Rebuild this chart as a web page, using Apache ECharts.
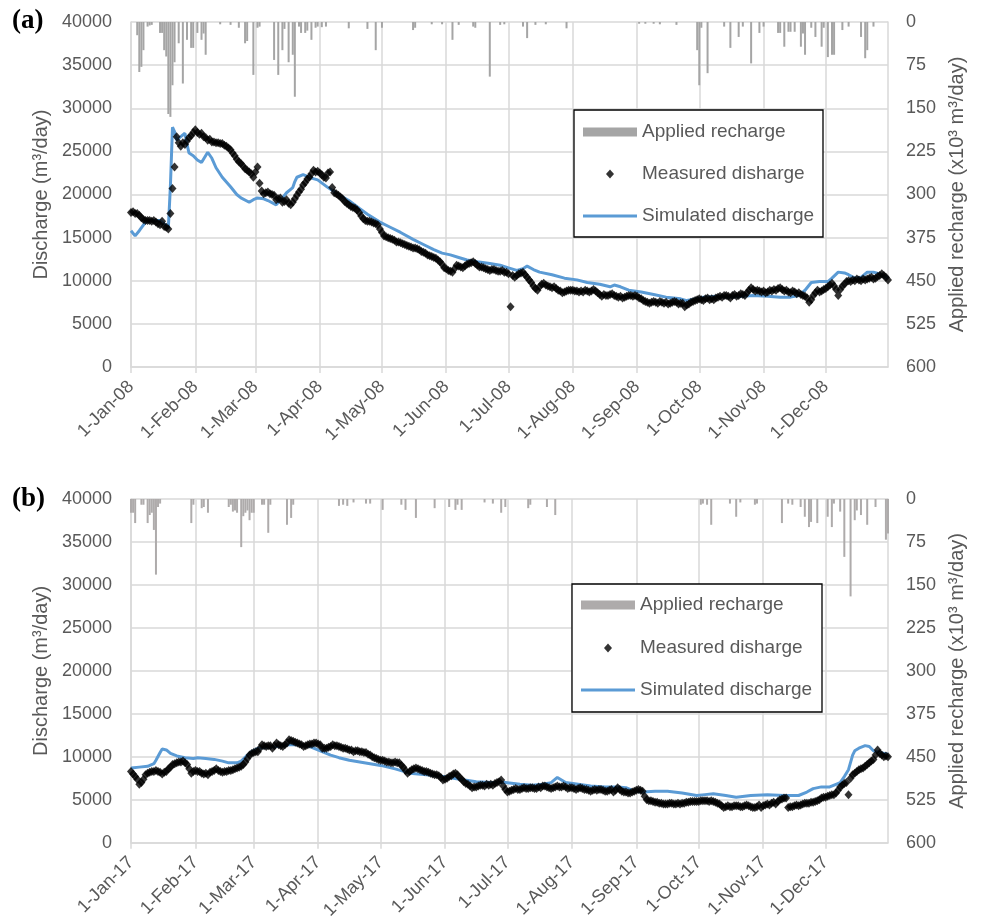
<!DOCTYPE html>
<html><head><meta charset="utf-8">
<script src="https://cdn.jsdelivr.net/npm/echarts@6/dist/echarts.min.js"></script>
<style>html,body{margin:0;padding:0;background:#fff}#chart{width:983px;height:922px}</style>
</head><body><div id="chart"></div>
<script>
// ---------- axis categories / tick labels ----------
const tickLabels08 = ['1-Jan-08','1-Feb-08','1-Mar-08','1-Apr-08','1-May-08','1-Jun-08','1-Jul-08','1-Aug-08','1-Sep-08','1-Oct-08','1-Nov-08','1-Dec-08'];
const monthStart08 = [0,31,60,91,121,152,182,213,244,274,305,335];
const dayCount08 = 366;
const tickLabels17 = ['1-Jan-17','1-Feb-17','1-Mar-17','1-Apr-17','1-May-17','1-Jun-17','1-Jul-17','1-Aug-17','1-Sep-17','1-Oct-17','1-Nov-17','1-Dec-17'];
const monthStart17 = [0,31,59,90,120,151,181,212,243,273,304,334];
const dayCount17 = 365;

// ---------- 2008: measured discharge, daily (x1000 m3/day) ----------
const measured08K = [
 // Jan
 17.9,18.0,17.8,17.8,17.6,17.3,17.1,17.0,17.0,17.0,16.9,17.0,16.8,16.6,16.5,16.9,16.3,16.2,16.0,17.8,20.7,23.2,26.7,26.0,25.6,26.0,25.8,26.2,26.6,26.8,27.2,
 // Feb
 27.5,27.2,27.0,27.1,26.7,26.6,26.3,26.4,26.1,26.1,26.0,26.0,25.9,25.9,25.7,25.6,25.4,25.2,24.8,24.5,24.1,23.8,23.6,23.3,23.0,22.8,22.6,22.4,22.0,
 // Mar
 22.6,23.2,21.3,20.4,20.1,20.2,20.3,20.1,20.0,19.9,19.4,19.5,19.6,19.1,19.2,19.4,19.0,18.8,19.1,19.5,19.9,20.3,20.6,21.1,21.4,21.8,22.0,22.4,22.8,22.6,22.7,
 // Apr
 22.5,22.3,22.0,21.9,22.5,22.6,20.8,20.2,20.1,19.9,19.7,19.5,19.2,19.0,18.8,18.6,18.5,18.4,18.2,17.9,17.5,17.2,17.0,16.9,16.9,16.8,16.7,16.6,16.5,16.0,
 // May
 15.6,15.2,15.1,15.0,14.9,14.8,14.7,14.5,14.5,14.4,14.3,14.2,14.1,14.0,13.9,13.8,13.8,13.7,13.6,13.4,13.3,13.2,13.0,12.9,12.8,12.7,12.6,12.4,12.2,11.9,11.5,
 // Jun
 11.4,11.2,11.1,11.0,11.4,11.8,11.7,11.6,11.5,11.7,11.9,12.0,12.1,12.2,12.0,11.8,11.6,11.6,11.5,11.4,11.3,11.2,11.3,11.3,11.2,11.1,11.1,11.2,11.0,11.0,
 // Jul
 10.8,7.0,10.6,10.4,10.6,10.8,10.9,11.0,10.7,10.4,10.1,9.8,9.4,9.1,8.9,9.3,9.6,9.7,9.5,9.4,9.3,9.2,9.3,9.1,8.9,8.8,8.6,8.7,8.8,8.9,8.9,
 // Aug
 8.9,8.8,8.8,8.7,8.8,8.7,8.9,8.8,8.7,8.8,9.0,8.8,8.6,8.4,8.2,8.4,8.3,8.3,8.4,8.5,8.3,8.2,8.1,8.2,8.0,8.1,8.2,8.3,8.3,8.2,8.3,
 // Sep
 8.2,8.0,7.9,7.7,7.6,7.5,7.4,7.5,7.6,7.5,7.4,7.6,7.5,7.4,7.5,7.3,7.4,7.5,7.6,7.5,7.3,7.4,7.4,7.0,7.2,7.3,7.5,7.6,7.7,7.8,
 // Oct
 7.9,7.8,7.7,7.9,8.0,7.8,7.9,7.8,8.0,8.1,8.2,8.1,8.3,8.3,8.2,8.0,8.3,8.4,8.2,8.3,8.5,8.4,8.3,8.6,8.9,9.2,9.0,8.8,8.9,8.8,8.7,
 // Nov
 8.8,8.6,8.7,8.9,8.8,9.0,8.9,9.1,9.2,9.0,8.8,8.9,8.7,8.6,8.8,8.7,8.5,8.6,8.4,8.3,8.2,8.0,7.5,7.8,8.3,8.6,8.9,8.7,8.8,9.0,
 // Dec
 9.1,9.3,9.5,9.7,9.4,9.0,8.3,9.0,9.4,9.6,9.9,10.0,9.9,10.1,10.0,10.2,10.1,10.0,10.2,10.1,10.2,10.3,10.4,10.2,10.3,10.5,10.6,10.8,10.6,10.4,10.1
];
// ---------- 2008: simulated discharge [day, x1000 m3/day] ----------
const simulated08K = [
 [0,15.8],[2,15.2],[4,15.8],[7,16.8],[9,17.0],[14,17.0],[16,16.6],[18,16.1],[19,21.0],[20,27.8],[21,27.3],[22,26.3],[24,26.7],[26,27.1],[27,25.8],[28,24.8],[30,24.5],[32,24.0],[34,23.7],[37,24.9],[39,24.2],[41,23.1],[44,22.0],[48,20.9],[51,20.0],[53,19.6],[57,19.1],[59,19.4],[61,19.6],[64,19.5],[66,19.3],[70,18.8],[73,19.6],[75,20.2],[78,20.8],[79,21.5],[80,22.0],[83,22.3],[87,21.9],[90,21.7],[95,20.8],[100,20.0],[105,19.3],[110,18.4],[114,17.7],[120,16.8],[125,16.2],[130,15.6],[136,14.8],[141,14.2],[146,13.6],[150,13.2],[154,13.0],[158,12.7],[162,12.4],[167,12.2],[173,12.0],[178,11.8],[182,11.5],[186,11.2],[189,11.4],[191,11.7],[194,11.3],[197,11.0],[203,10.7],[209,10.3],[215,10.1],[220,9.8],[226,9.6],[231,9.3],[233,9.5],[236,9.3],[240,8.9],[246,8.7],[252,8.4],[258,8.1],[265,7.9],[268,7.7],[272,7.9],[276,8.1],[282,8.2],[288,8.1],[295,8.2],[300,8.3],[307,8.2],[313,8.1],[318,8.1],[322,8.3],[325,8.9],[328,9.8],[332,9.9],[336,9.9],[338,10.3],[341,11.0],[344,10.9],[346,10.7],[349,10.3],[352,10.4],[355,11.0],[358,11.0],[361,10.8],[365,10.3]
];
// ---------- 2008: applied recharge [day, x1000 m3/day] ----------
const recharge08 = [
 [3,23],[4,87],[5,78],[6,49],[8,8],[9,6],[10,5],[14,19],[15,19],[16,49],[17,60],[18,160],[19,165],[20,110],[21,70],[23,37],[25,107],[27,31],[29,45],[30,45],[32,19],[34,31],[35,20],[36,57],[43,4],[48,5],[52,10],[55,37],[56,33],[59,92],[61,10],[62,8],[69,66],[71,92],[73,49],[74,12],[76,70],[78,57],[79,130],[81,8],[82,19],[84,19],[85,15],[87,31],[89,10],[90,8],[92,9],[94,8],[105,11],[114,12],[118,49],[121,10],[136,14],[137,10],[145,4],[150,4],[155,31],[158,5],[165,8],[166,10],[173,95],[178,5],[180,4],[189,8],[191,28],[195,5],[200,4],[210,11],[245,3],[248,3],[252,3],[255,4],[263,5],[273,49],[274,110],[275,10],[278,89],[286,8],[289,45],[293,26],[295,8],[299,72],[303,19],[305,8],[312,19],[313,19],[315,43],[317,17],[318,17],[320,17],[323,43],[324,20],[325,57],[328,10],[330,26],[333,43],[334,10],[336,61],[338,57],[339,57],[343,14],[346,8],[352,26],[354,63],[355,49],[358,8]
];

// ---------- 2017: measured discharge, daily (x1000 m3/day) ----------
const measured17K = [
 // Jan
 8.3,8.0,7.7,7.4,6.8,7.0,7.4,7.9,8.1,8.2,8.3,8.3,8.4,8.3,8.2,8.0,8.2,8.3,8.6,8.8,9.1,9.2,9.3,9.4,9.4,9.5,9.3,9.1,8.6,8.1,8.3,
 // Feb
 8.4,8.3,8.3,8.1,8.0,8.1,7.9,8.2,8.3,8.4,8.6,8.4,8.3,8.2,8.3,8.3,8.4,8.4,8.5,8.6,8.7,8.8,8.9,9.1,9.4,9.8,10.2,10.4,
 // Mar
 10.5,10.6,10.6,11.0,11.4,11.3,11.2,11.3,11.3,11.0,11.3,11.6,11.4,11.3,11.2,11.4,11.6,12.0,11.9,11.8,11.7,11.6,11.5,11.4,11.2,11.3,11.4,11.5,11.5,11.6,11.6,
 // Apr
 11.5,11.4,11.0,11.0,11.0,11.1,11.2,11.4,11.3,11.3,11.2,11.1,11.0,11.0,10.9,10.8,10.8,10.6,10.7,10.7,10.6,10.6,10.5,10.5,10.3,10.2,10.0,9.9,9.8,9.7,
 // May
 9.6,9.6,9.5,9.4,9.4,9.3,9.3,9.4,9.3,9.3,9.0,8.8,8.4,8.1,8.3,8.5,8.6,8.7,8.6,8.5,8.4,8.3,8.3,8.2,8.1,8.0,7.9,7.9,7.8,7.6,7.3,
 // Jun
 7.4,7.5,7.7,7.8,8.0,8.1,7.9,7.6,7.4,7.1,6.9,6.8,6.6,6.4,6.5,6.5,6.6,6.7,6.7,6.6,6.8,6.7,6.8,6.7,6.9,7.0,7.1,7.3,6.6,6.2,
 // Jul
 5.9,6.0,6.1,6.2,6.3,6.2,6.2,6.3,6.4,6.3,6.3,6.4,6.4,6.3,6.3,6.5,6.4,6.6,6.6,6.5,6.4,6.3,6.4,6.5,6.6,6.5,6.5,6.6,6.5,6.3,6.4,
 // Aug
 6.4,6.3,6.2,6.3,6.4,6.3,6.2,6.2,6.1,6.0,6.1,6.2,6.1,6.2,6.2,6.1,6.0,6.0,6.1,6.2,5.9,6.1,6.4,6.2,6.0,5.9,5.9,5.8,5.8,5.9,6.0,
 // Sep
 6.1,6.2,6.1,6.0,5.4,5.0,4.9,4.9,4.8,4.7,4.7,4.6,4.6,4.5,4.5,4.5,4.6,4.6,4.5,4.5,4.6,4.5,4.6,4.6,4.7,4.7,4.8,4.8,4.8,4.8,
 // Oct
 4.8,4.9,4.9,4.9,4.9,4.8,4.9,4.8,4.7,4.6,4.5,4.3,4.1,4.2,4.3,4.2,4.2,4.3,4.3,4.3,4.2,4.2,4.3,4.4,4.3,4.2,4.1,4.1,4.2,4.4,4.1,
 // Nov
 4.3,4.4,4.5,4.4,4.6,4.7,4.5,4.8,5.0,5.1,5.2,5.2,4.1,4.2,4.2,4.3,4.4,4.3,4.4,4.5,4.6,4.6,4.6,4.7,4.7,4.8,4.9,5.0,5.2,5.3,
 // Dec
 5.3,5.4,5.5,5.6,5.6,5.8,6.1,6.5,6.7,6.9,7.0,5.6,7.5,7.9,8.1,8.3,8.5,8.6,8.7,8.9,9.1,9.3,9.5,9.7,10.2,10.8,10.4,10.2,10.0,10.1,10.0
];
// ---------- 2017: simulated discharge [day, x1000 m3/day] ----------
const simulated17K = [
 [0,8.7],[4,8.8],[8,8.9],[11,9.2],[12,9.6],[14,10.5],[15,10.9],[17,10.8],[19,10.4],[22,10.1],[26,9.9],[30,9.8],[32,9.9],[36,9.8],[40,9.7],[44,9.5],[47,9.3],[51,9.3],[53,9.5],[56,10.2],[58,10.6],[61,11.0],[66,11.1],[70,11.2],[76,11.4],[81,11.4],[86,11.2],[91,10.7],[96,10.2],[100,9.9],[105,9.6],[110,9.4],[115,9.2],[120,9.0],[127,8.6],[134,8.1],[142,7.9],[150,7.7],[158,7.4],[166,7.1],[173,7.0],[180,7.0],[187,6.8],[193,6.7],[198,6.8],[202,7.0],[205,7.6],[207,7.3],[209,7.0],[215,6.8],[221,6.6],[228,6.5],[234,6.5],[238,6.4],[242,6.0],[246,5.9],[252,6.0],[258,6.0],[265,5.8],[272,5.5],[276,5.6],[280,5.7],[286,5.5],[291,5.3],[298,5.5],[306,5.6],[314,5.5],[321,5.5],[325,5.9],[328,6.3],[332,6.5],[336,6.5],[339,6.8],[341,7.0],[343,7.7],[345,8.5],[347,10.2],[348,10.7],[350,11.0],[353,11.3],[355,11.2],[357,10.7],[360,10.5],[364,10.3]
];
// ---------- 2017: applied recharge [day, x1000 m3/day] ----------
const recharge17 = [
 [0,24],[1,24],[2,42],[5,10],[6,10],[8,42],[9,28],[10,24],[11,54],[12,132],[13,14],[14,8],[29,42],[30,10],[34,16],[35,14],[37,24],[47,14],[48,10],[49,22],[50,20],[51,24],[53,84],[54,30],[55,24],[56,20],[57,37],[58,24],[59,24],[63,10],[64,10],[66,59],[67,10],[75,45],[77,33],[78,10],[100,12],[102,10],[104,12],[107,6],[113,8],[115,8],[121,19],[130,10],[132,19],[137,33],[146,16],[153,14],[156,19],[157,10],[159,19],[170,6],[174,8],[178,24],[180,14],[191,16],[192,10],[200,14],[204,28],[274,10],[275,8],[277,10],[279,45],[288,8],[291,31],[293,6],[300,10],[301,8],[313,42],[316,8],[318,10],[322,14],[324,31],[326,49],[327,40],[330,42],[335,31],[337,49],[338,8],[341,22],[343,101],[346,170],[348,37],[349,20],[351,28],[354,45],[358,14],[363,71],[364,60]
];

// ---------- styling ----------
const GRID = '#D9D9D9', TXT = '#595959', BLUE = '#5B9BD5';
const FONT = 'Liberation Sans, Arial, sans-serif';

function xAxisFor(gi, n, starts, labels) {
  const cats = Array.from({length: n}, (_, i) => String(i));
  const isStart = (i) => starts.indexOf(i) >= 0;
  return {
    type: 'category', gridIndex: gi, data: cats, boundaryGap: false,
    axisLine: {show: true, lineStyle: {color: GRID, width: 1.5}},
    axisTick: {show: true, interval: (i) => isStart(i), length: 6, lineStyle: {color: GRID, width: 1.5}},
    axisLabel: {interval: (i) => isStart(i), formatter: (v) => labels[starts.indexOf(Number(v))], rotate: 45,
      color: TXT, fontSize: 18, margin: 17, fontFamily: FONT},
    splitLine: {show: true, interval: (i) => isStart(i), lineStyle: {color: GRID, width: 1.5}}
  };
}
function yAxesFor(gi) {
  return [{
    type: 'value', gridIndex: gi, min: 0, max: 40000, interval: 5000, position: 'left',
    axisLine: {show: true, lineStyle: {color: GRID, width: 1.5}}, axisTick: {show: false},
    axisLabel: {color: TXT, fontSize: 18, margin: 19, fontFamily: FONT, formatter: (v) => String(v)},
    splitLine: {show: true, lineStyle: {color: GRID, width: 1.5}},
    name: 'Discharge (m³/day)', nameLocation: 'middle', nameRotate: 90, nameGap: 74,
    nameTextStyle: {color: TXT, fontSize: 20, fontFamily: FONT}
  }, {
    type: 'value', gridIndex: gi, min: 0, max: 600, interval: 75, position: 'right', inverse: true,
    axisLine: {show: true, lineStyle: {color: GRID, width: 1.5}}, axisTick: {show: false},
    axisLabel: {color: TXT, fontSize: 18, margin: 18, fontFamily: FONT, formatter: (v) => String(v)},
    splitLine: {show: false},
    name: 'Applied recharge (x10³ m³/day)', nameLocation: 'middle', nameRotate: 90, nameGap: 59,
    nameTextStyle: {color: TXT, fontSize: 20, fontFamily: FONT}
  }];
}
function seriesFor(gi, recharge, simK, measK, barColor) {
  return [{
    name: 'Applied recharge', type: 'bar', xAxisIndex: gi, yAxisIndex: gi * 2 + 1,
    data: recharge.map(([d, v]) => [d, v]), barWidth: 2, itemStyle: {color: barColor}, z: 1, silent: true
  }, {
    name: 'Simulated discharge', type: 'line', xAxisIndex: gi, yAxisIndex: gi * 2,
    data: simK.map(([d, v]) => [d, v * 1000]), symbol: 'none', showSymbol: false,
    lineStyle: {color: BLUE, width: 3}, itemStyle: {color: BLUE}, z: 2, silent: true
  }, {
    name: 'Measured disharge', type: 'scatter', xAxisIndex: gi, yAxisIndex: gi * 2,
    data: measK.map((v, d) => [d, v * 1000]), symbol: 'diamond', symbolSize: [8, 9],
    itemStyle: {color: '#000'}, z: 3, silent: true
  }];
}
function legendsFor(iconLeft, textLeft, centers, barColor) {
  const ts = {color: TXT, fontSize: 19, lineHeight: 20, fontFamily: FONT};
  const iw = textLeft - 5 - iconLeft;
  const diamondW = 8;
  const dLeft = iconLeft + iw / 2 - diamondW / 2;
  return [
    {data: [{name: 'Applied recharge', icon: 'rect', itemStyle: {color: barColor}}], left: iconLeft, top: centers[0] - 10,
      itemWidth: iw, itemHeight: 9, padding: 0, selectedMode: false, textStyle: ts},
    {data: [{name: 'Measured disharge', icon: 'diamond', itemStyle: {color: '#000'}}], left: dLeft, top: centers[1] - 10,
      itemWidth: diamondW, itemHeight: 9, padding: 0, selectedMode: false,
      textStyle: Object.assign({}, ts, {padding: [0, 0, 0, textLeft - 5 - (dLeft + diamondW)]})},
    {data: [{name: 'Simulated discharge', icon: 'rect', itemStyle: {color: BLUE}}], left: iconLeft, top: centers[2] - 10,
      itemWidth: iw, itemHeight: 3, padding: 0, selectedMode: false, textStyle: ts}
  ];
}

const chart = echarts.init(document.getElementById('chart'), null, {renderer: 'canvas'});
const option = {
  animation: false,
  backgroundColor: '#fff',
  textStyle: {fontFamily: FONT},
  title: [
    {text: '(a)', left: 12, top: 8, padding: 0, textStyle: {fontFamily: 'Liberation Serif', fontWeight: 'bold', fontSize: 27, color: '#000'}},
    {text: '(b)', left: 12, top: 486, padding: 0, textStyle: {fontFamily: 'Liberation Serif', fontWeight: 'bold', fontSize: 27, color: '#000'}}
  ],
  grid: [
    {left: 131, top: 22, width: 757, height: 345},
    {left: 131, top: 499, width: 757, height: 345}
  ],
  xAxis: [xAxisFor(0, dayCount08, monthStart08, tickLabels08), xAxisFor(1, dayCount17, monthStart17, tickLabels17)],
  yAxis: [...yAxesFor(0), ...yAxesFor(1)],
  legend: [...legendsFor(583, 642, [132, 174, 216], '#A5A5A5'), ...legendsFor(581, 640, [605, 648, 690], '#AEABAB')],
  graphic: [
    {type: 'rect', z: 1, shape: {x: 574, y: 110, width: 249, height: 127}, style: {fill: '#fff', stroke: '#000', lineWidth: 1.3}},
    {type: 'rect', z: 1, shape: {x: 572, y: 584, width: 250, height: 128}, style: {fill: '#fff', stroke: '#000', lineWidth: 1.3}}
  ],
  series: [...seriesFor(0, recharge08, simulated08K, measured08K, '#A5A5A5'), ...seriesFor(1, recharge17, simulated17K, measured17K, '#AEABAB')]
};
chart.setOption(option);
</script></body></html>
